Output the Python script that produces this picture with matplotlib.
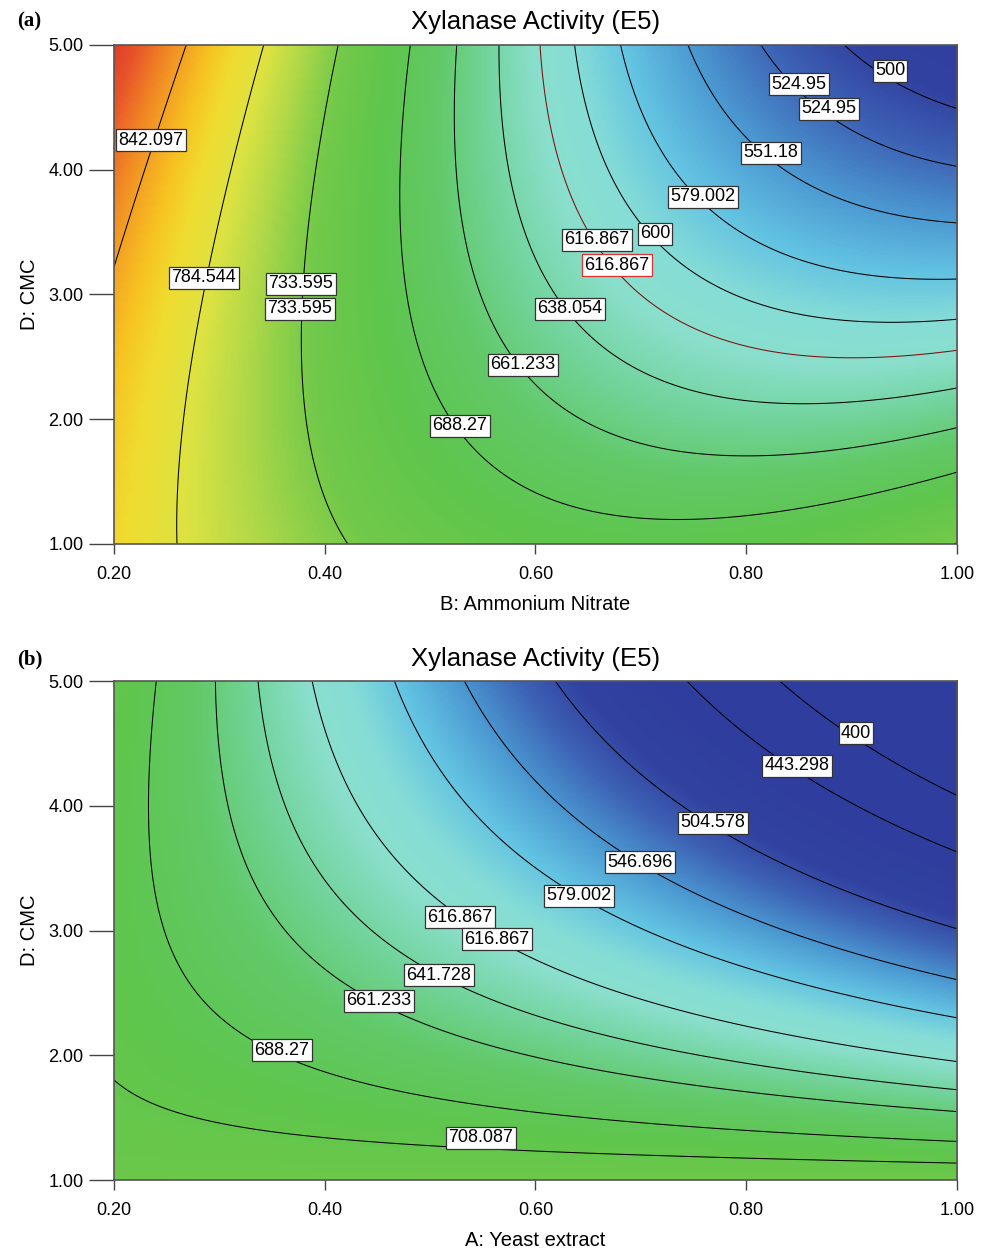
import numpy as np
import matplotlib
matplotlib.use("Agg")
import matplotlib.pyplot as plt
from matplotlib.colors import LinearSegmentedColormap, Normalize

plt.rcParams["font.family"] = ["Liberation Sans", "DejaVu Sans"]

# ==========================
# DATA
# ==========================
TITLE = "Xylanase Activity (E5)"

# panel (a): B = Ammonium Nitrate vs D = CMC
a_levels = [500, 524.95, 551.18, 579.002, 600, 616.867, 638.054,
            661.233, 688.27, 733.595, 784.544, 842.097]
# points (x, y, level)
a_trace_x = [0.2, 0.236, 0.2696,
             0.343, 0.312, 0.283, 0.268, 0.2595,
             0.413, 0.394, 0.378, 0.382, 0.402, 0.421,
             0.482, 0.474, 0.476, 0.4825, 0.528, 0.614, 0.737, 0.883, 1.0,
             0.525, 0.524, 0.535, 0.566, 0.587, 0.628, 0.693, 0.787, 0.882, 1.0,
             0.565, 0.582, 0.614, 0.6325, 0.693, 0.788, 0.883, 1.0,
             0.6044, 0.6285, 0.6475, 0.676, 0.724, 0.819, 0.883, 1.0,
             0.6357, 0.6913, 0.712, 0.755, 0.85, 1.0,
             0.6799, 0.7237, 0.7585, 0.819, 0.914, 1.0,
             0.7425, 0.8025, 0.85, 0.9137, 1.0,
             0.8117, 0.85, 0.9137, 1.0,
             0.8906, 0.936, 1.0]
a_trace_y = [3.19, 4.24, 5.0,
             5.0, 4.0, 3.0, 2.0, 1.0,
             5.0, 4.0, 3.0, 2.0, 1.5, 1.0,
             5.0, 4.0, 3.0, 2.635, 1.9, 1.35, 1.19, 1.33, 1.568,
             5.0, 3.93, 3.13, 2.6, 2.38, 2.05, 1.81, 1.70, 1.77, 1.929,
             5.0, 3.57, 3.06, 2.88, 2.475, 2.21, 2.13, 2.241,
             5.0, 3.97, 3.44, 3.17, 2.85, 2.58, 2.49, 2.543,
             5.0, 3.70, 3.44, 3.12, 2.85, 2.789,
             5.0, 4.16, 3.76, 3.44, 3.20, 3.111,
             5.0, 4.21, 4.0, 3.70, 3.563,
             5.0, 4.59, 4.29, 4.012,
             5.0, 4.75, 4.479]
a_trace_z = ([842.097] * 3 + [784.544] * 5 + [733.595] * 6 + [688.27] * 9
             + [661.233] * 10 + [638.054] * 8 + [616.867] * 8 + [600] * 6
             + [579.002] * 6 + [551.18] * 5 + [524.95] * 4 + [500] * 3)
a_label_text = ["842.097", "784.544", "733.595", "733.595", "688.27", "661.233",
                "638.054", "616.867", "616.867", "600", "579.002", "551.18",
                "524.95", "524.95", "500"]
a_label_x = [0.235, 0.2854, 0.3775, 0.3765, 0.5283, 0.588, 0.6327, 0.6584,
             0.6773, 0.7134, 0.759, 0.8235, 0.85, 0.8785, 0.9364]
a_label_y = [4.238, 3.132, 3.084, 2.884, 1.946, 2.435, 2.884, 3.437,
             3.236, 3.485, 3.782, 4.134, 4.687, 4.487, 4.792]

# panel (b): A = Yeast extract vs D = CMC
b_levels = [400, 443.298, 504.578, 546.696, 579.002, 616.867, 641.728,
            661.233, 688.27, 708.087]
b_trace_x = [0.2, 0.25, 0.345, 0.4714, 0.5157, 0.6138, 1.0,
             0.243, 0.2342, 0.2304, 0.2342, 0.25, 0.2816, 0.3591, 0.4398, 0.5347, 0.6138, 1.0,
             0.2975, 0.307, 0.3227, 0.3544, 0.4508, 0.5347, 0.6138, 1.0,
             0.3379, 0.3512, 0.3765, 0.424, 0.5087, 0.6138, 1.0,
             0.3885, 0.4081, 0.4398, 0.503, 0.5632, 0.6138, 1.0,
             0.4651, 0.503, 0.5505, 0.6138, 0.6422, 0.7561, 0.8826, 1.0,
             0.5315, 0.5822, 0.6992, 0.8194, 0.9143, 1.0,
             0.6169, 0.6612, 0.7687, 0.8826, 1.0,
             0.7419, 0.8488, 0.9143, 1.0,
             0.8289, 0.9048, 1.0]
b_trace_y = [1.828, 1.601, 1.387, 1.307, 1.281, 1.227, 1.147,
             5.0, 4.513, 3.846, 3.311, 2.857, 2.483, 2.034, 1.762, 1.601, 1.521, 1.315,
             5.0, 4.246, 3.712, 3.178, 2.429, 2.162, 1.935, 1.548,
             5.0, 4.246, 3.712, 3.178, 2.638, 2.242, 1.716,
             5.0, 4.38, 3.846, 3.178, 2.924, 2.67, 1.936,
             5.0, 4.38, 3.846, 3.365, 3.276, 2.83, 2.509, 2.283,
             5.0, 4.38, 3.544, 3.124, 2.884, 2.577,
             5.0, 4.513, 3.854, 3.445, 2.986,
             5.0, 4.31, 3.926, 3.597,
             5.0, 4.575, 4.06]
b_trace_z = ([708.087] * 7 + [688.27] * 11 + [661.233] * 8 + [641.728] * 7
             + [616.867] * 7 + [579.002] * 8 + [546.696] * 6 + [504.578] * 5
             + [443.298] * 4 + [400] * 3)
b_label_text = ["400", "443.298", "504.578", "546.696", "579.002", "616.867",
                "616.867", "641.728", "661.233", "688.27", "708.087"]
b_label_x = [0.9042, 0.8482, 0.7684, 0.6992, 0.6413, 0.5283, 0.5635,
             0.5084, 0.4515, 0.3594, 0.5483]
b_label_y = [4.583, 4.319, 3.862, 3.549, 3.277, 3.108, 2.932,
             2.643, 2.435, 2.042, 1.337]

x_ticks = [0.2, 0.4, 0.6, 0.8, 1.0]
y_ticks = [1, 2, 3, 4, 5]

# colour stops (response value -> colour)
color_vals = [450, 495, 520, 550, 575, 600, 620, 645, 670, 700, 730,
              760, 782, 805, 825, 842, 862, 882, 905]
color_hex = ["#2F3E9E", "#3242A0", "#3D62B5", "#4C9AD2", "#62C2E2", "#86DDD6",
             "#8ADFCC", "#72D49C", "#62C968", "#5EC64C", "#72C94A", "#B4D948",
             "#DDE342", "#F0DC30", "#F7C220", "#F4A424", "#EF7E24", "#E8552A",
             "#E03A28"]

VMIN, VMAX = color_vals[0], color_vals[-1]
cmap = LinearSegmentedColormap.from_list(
    "de", [((v - VMIN) / (VMAX - VMIN), c) for v, c in zip(color_vals, color_hex)])
norm = Normalize(VMIN, VMAX)


def fit_quadratic(x, y, z):
    x, y, z = map(np.asarray, (x, y, z))
    A = np.column_stack([np.ones_like(x), x, y, x * y, x ** 2, y ** 2])
    coef, *_ = np.linalg.lstsq(A, z, rcond=None)
    return coef


def surface(coef, X, Y):
    return (coef[0] + coef[1] * X + coef[2] * Y + coef[3] * X * Y
            + coef[4] * X ** 2 + coef[5] * Y ** 2)


def draw_panel(ax, tx, ty, tz, levels, lab_x, lab_y, lab_t, xlabel, red_level=None):
    coef = fit_quadratic(tx, ty, tz)
    gx = np.linspace(0.2, 1.0, 300)
    gy = np.linspace(1.0, 5.0, 300)
    X, Y = np.meshgrid(gx, gy)
    Z = surface(coef, X, Y)

    ax.imshow(Z, extent=[0.2, 1.0, 1.0, 5.0], origin="lower", aspect="auto",
              cmap=cmap, norm=norm, interpolation="bilinear")
    line_colors = ["#7a1010" if lv == red_level else "black" for lv in levels]
    ax.contour(X, Y, Z, levels=levels, colors=line_colors, linewidths=0.75)

    for t, lx, ly in zip(lab_t, lab_x, lab_y):
        ec = "#e03030" if (red_level is not None and t == "616.867" and lx > 0.67) else "#333333"
        ax.text(lx, ly, t, ha="center", va="center", fontsize=13, zorder=5,
                bbox=dict(boxstyle="square,pad=0.12", fc="white", ec=ec, lw=0.9))

    ax.set_xlim(0.2, 1.0)
    ax.set_ylim(1.0, 5.0)
    ax.set_xticks(x_ticks)
    ax.set_xticklabels([f"{v:.2f}" for v in x_ticks])
    ax.set_yticks(y_ticks)
    ax.set_yticklabels([f"{v:.2f}" for v in y_ticks])
    ax.tick_params(axis="x", direction="out", length=7, width=1, pad=9,
                   labelsize=13, color="#444444")
    ax.tick_params(axis="y", direction="out", length=18, width=1, pad=4,
                   labelsize=13, color="#444444")
    for sp in ax.spines.values():
        sp.set_color("#555555")
        sp.set_linewidth(1.2)
    ax.set_xlabel(xlabel, fontsize=14.5)
    ax.xaxis.set_label_coords(0.5, -0.102)
    ax.set_ylabel("D: CMC", fontsize=14.5)
    ax.yaxis.set_label_coords(-0.089, 0.5)


fig = plt.figure(figsize=(9.86, 12.49), dpi=100)
ax_a = fig.add_axes([0.1156, 0.5645, 0.855, 0.3995])
ax_b = fig.add_axes([0.1156, 0.05524, 0.855, 0.3995])

draw_panel(ax_a, a_trace_x, a_trace_y, a_trace_z, a_levels,
           a_label_x, a_label_y, a_label_text, "B: Ammonium Nitrate", red_level=616.867)
draw_panel(ax_b, b_trace_x, b_trace_y, b_trace_z, b_levels,
           b_label_x, b_label_y, b_label_text, "A: Yeast extract")

fig.text(0.5431, 1 - 22 / 1249, TITLE, ha="center", va="center", fontsize=18.5)
fig.text(0.5431, 1 - 659 / 1249, TITLE, ha="center", va="center", fontsize=18.5)
fig.text(0.017, 1 - 21 / 1249, "(a)", ha="left", va="center", fontsize=15,
         fontweight="bold", family="Liberation Serif")
fig.text(0.017, 1 - 659 / 1249, "(b)", ha="left", va="center", fontsize=15,
         fontweight="bold", family="Liberation Serif")

fig.savefig("out.png", dpi=100)
